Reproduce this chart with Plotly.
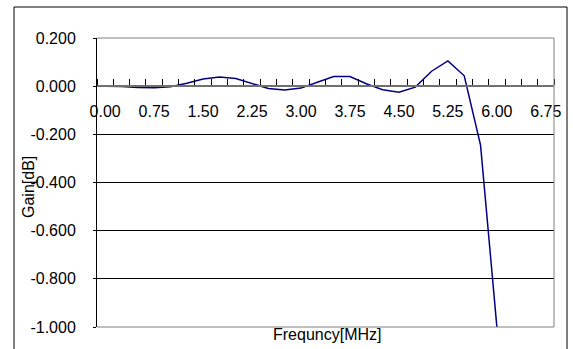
import plotly.graph_objects as go

# frequency points (MHz) and measured gain (dB)
freq_mhz = [0.00, 0.25, 0.50, 0.75, 1.00, 1.25, 1.50, 1.75, 2.00, 2.25,
            2.50, 2.75, 3.00, 3.25, 3.50, 3.75, 4.00, 4.25, 4.50, 4.75,
            5.00, 5.25, 5.50, 5.75, 6.00]
gain_db = [0.000, -0.001, -0.006, -0.007, -0.002, 0.012, 0.030, 0.038, 0.032, 0.012,
           -0.010, -0.016, -0.008, 0.016, 0.040, 0.040, 0.010, -0.015, -0.025, -0.004,
           0.062, 0.105, 0.043, -0.245, -1.000]

x_tick_labels = ["0.00", "0.75", "1.50", "2.25", "3.00", "3.75", "4.50", "5.25", "6.00", "6.75"]
y_tick_labels = ["-1.000", "-0.800", "-0.600", "-0.400", "-0.200", "0.000", "0.200"]

STEP = 0.25  # category width
FONT = "Liberation Sans, Arial, sans-serif"

x_vals = [float(t) for t in x_tick_labels]
y_vals = [float(t) for t in y_tick_labels]
x_range = [x_vals[0] - STEP / 2, x_vals[-1] + STEP / 2]
y_range = [y_vals[0], y_vals[-1]]

fig = go.Figure()
fig.add_trace(go.Scatter(
    x=freq_mhz, y=gain_db, mode="lines",
    line=dict(color="#000080", width=1.5),
    showlegend=False,
))

zero_pos = (0 - y_range[0]) / (y_range[1] - y_range[0])

fig.update_layout(
    width=573, height=349,
    margin=dict(l=97, r=19, t=38, b=22),
    paper_bgcolor="white", plot_bgcolor="white",
    font=dict(family=FONT, size=16, color="black"),
    xaxis=dict(
        range=x_range, anchor="free", position=zero_pos, side="bottom",
        tickmode="array", tickvals=x_vals, ticktext=x_tick_labels,
        ticks="", ticklabelstandoff=11,
        showline=True, linecolor="#707070", linewidth=1.5,
        showgrid=False, zeroline=False,
        minor=dict(tickmode="linear", tick0=x_range[0], dtick=STEP,
                   ticks="inside", ticklen=6, tickcolor="black", tickwidth=1, showgrid=False),
    ),
    yaxis=dict(
        range=y_range, tickmode="array", tickvals=y_vals, ticktext=y_tick_labels,
        ticks="outside", ticklen=3, tickcolor="black", ticklabelstandoff=14,
        showline=True, linecolor="black", linewidth=1,
        showgrid=True, gridcolor="black", gridwidth=1, zeroline=False,
    ),
    shapes=[
        # plot area border (grey) on top, right, bottom
        dict(type="line", xref="paper", yref="paper", x0=0, x1=1, y0=1, y1=1,
             line=dict(color="#808080", width=1), layer="above"),
        dict(type="line", xref="paper", yref="paper", x0=1, x1=1, y0=0, y1=1,
             line=dict(color="#808080", width=1), layer="above"),
        dict(type="line", xref="paper", yref="paper", x0=0, x1=1, y0=0, y1=0,
             line=dict(color="#808080", width=1), layer="above"),
        # chart frame
        dict(type="rect", xref="paper", yref="paper",
             x0=(14 - 97) / 457, x1=(567 - 97) / 457, y0=(327 - 355) / 289, y1=(327 - 7) / 289,
             line=dict(color="black", width=1), layer="above"),
    ],
    annotations=[
        dict(text="Frequncy[MHz]", xref="paper", yref="paper", x=0.503, y=(327 - 334) / 289,
             xanchor="center", yanchor="middle", showarrow=False, font=dict(size=16)),
        dict(text="Gain[dB]", xref="paper", yref="paper", x=(28 - 97) / 457, y=(327 - 187) / 289,
             xanchor="center", yanchor="middle", textangle=-90, showarrow=False, font=dict(size=16)),
    ],
)

# page body has a default 8px margin; drop it so the figure sits at the window origin
fig.write_html("out.html", config={"displayModeBar": False},
               post_script="document.body.style.margin='0';")
